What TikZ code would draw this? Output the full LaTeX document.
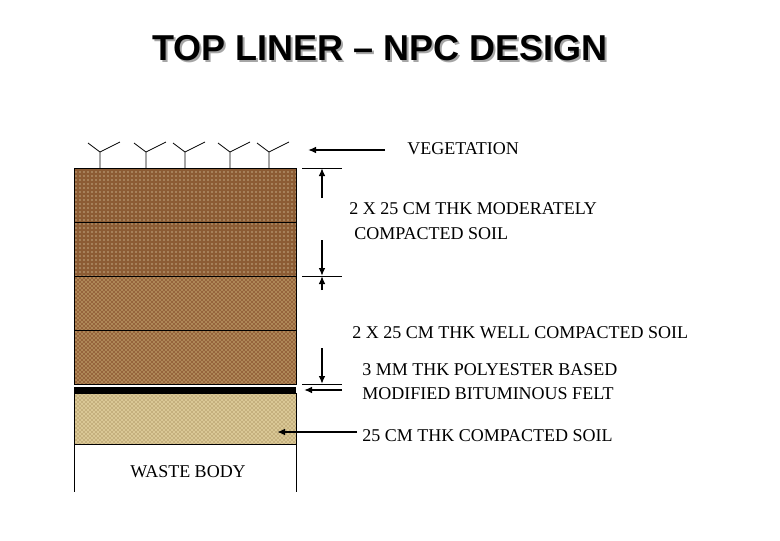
\documentclass[tikz,border=0pt]{standalone}
\usepackage{fontspec}
\setmainfont{Liberation Serif}
\newfontfamily\titlefont{Liberation Sans}
\usetikzlibrary{patterns,arrows.meta}
\definecolor{soilA}{RGB}{140,92,52}
\definecolor{soilB}{RGB}{150,100,60}
\definecolor{tan}{RGB}{218,200,150}
\definecolor{tandot}{RGB}{130,100,50}
\begin{document}
\begin{tikzpicture}[x=0.75pt,y=-0.75pt,
  lbl/.style={anchor=west,inner sep=0,font=\fontsize{13.5}{15}\selectfont},
  arr/.style={line width=1.3pt,-{Latex[length=6pt,width=5pt]}},
  tick/.style={line width=0.6pt},
  layer/.style={draw=black,line width=0.6pt}]
\useasboundingbox (0,0) rectangle (780,540);
\node[font=\titlefont\bfseries\fontsize{27}{30}\selectfont,text=gray!70] at (382,50) {TOP LINER – NPC DESIGN};
\node (title) [font=\titlefont\bfseries\fontsize{27}{30}\selectfont] at (380,48) {TOP LINER – NPC DESIGN};
% layers
\foreach \a/\b in {168/222,222/276}{
  \fill[soilA] (74,\a) rectangle (296,\b);
  \fill[pattern=dots,pattern color=white!85!yellow] (74,\a) rectangle (296,\b);
  \draw[layer] (74,\a) rectangle (296,\b);}
\foreach \a/\b in {276/330,330/384}{
  \fill[soilB] (74,\a) rectangle (296,\b);
  \fill[pattern=crosshatch dots,pattern color=white!70!yellow] (74,\a) rectangle (296,\b);
  \draw[layer] (74,\a) rectangle (296,\b);}
\fill[black] (74,387) rectangle (296,393);
\fill[tan] (74,393) rectangle (296,444);
\fill[pattern=crosshatch dots,pattern color=tandot] (74,393) rectangle (296,444);
\draw[layer] (74,393) rectangle (296,444);
\draw[layer] (74,444) -- (74,492) (296,444) -- (296,492);
\node (waste) [lbl,anchor=center] at (188,472) {WASTE BODY};
% vegetation
\foreach \x in {100,146,185,230,269}{
  \draw[line width=0.6pt] (\x,168) -- (\x,152) -- (\x-12,143) (\x,152) -- (\x+20,142);}
% labels
\node (veg) [lbl] at (407,149) {VEGETATION};
\node (m1) [lbl] at (349,209) {2 X 25 CM THK MODERATELY};
\node (m2) [lbl] at (354,234) {COMPACTED SOIL};
\node (w1) [lbl] at (352,333) {2 X 25 CM THK WELL COMPACTED SOIL};
\node (p1) [lbl] at (362,370) {3 MM THK POLYESTER BASED};
\node (p2) [lbl] at (362,394) {MODIFIED BITUMINOUS FELT};
\node (c1) [lbl] at (362,436) {25 CM THK COMPACTED SOIL};
% arrows
\coordinate (va) at (385,150); \coordinate (vb) at (308,150);
\draw[arr] (va) -- (vb);
\draw[tick] (302,168) -- (342,168) (302,276) -- (342,276) (302,384) -- (342,384);
\coordinate (d1) at (322,198); \coordinate (d1t) at (322,168);
\coordinate (d2) at (322,240); \coordinate (d2t) at (322,276);
\draw[arr] (d1) -- (d1t); \draw[arr] (d2) -- (d2t);
\coordinate (d3) at (322,290); \coordinate (d3t) at (322,276);
\draw[arr] (d3) -- (d3t);
\coordinate (d4) at (322,348); \coordinate (d4t) at (322,384);
\draw[arr] (d4) -- (d4t);
\coordinate (fa) at (342,390); \coordinate (fb) at (304,390);
\draw[arr] (fa) -- (fb);
\coordinate (ta) at (357,432); \coordinate (tb) at (277,432);
\draw[arr] (ta) -- (tb);
\end{tikzpicture}
\end{document}
